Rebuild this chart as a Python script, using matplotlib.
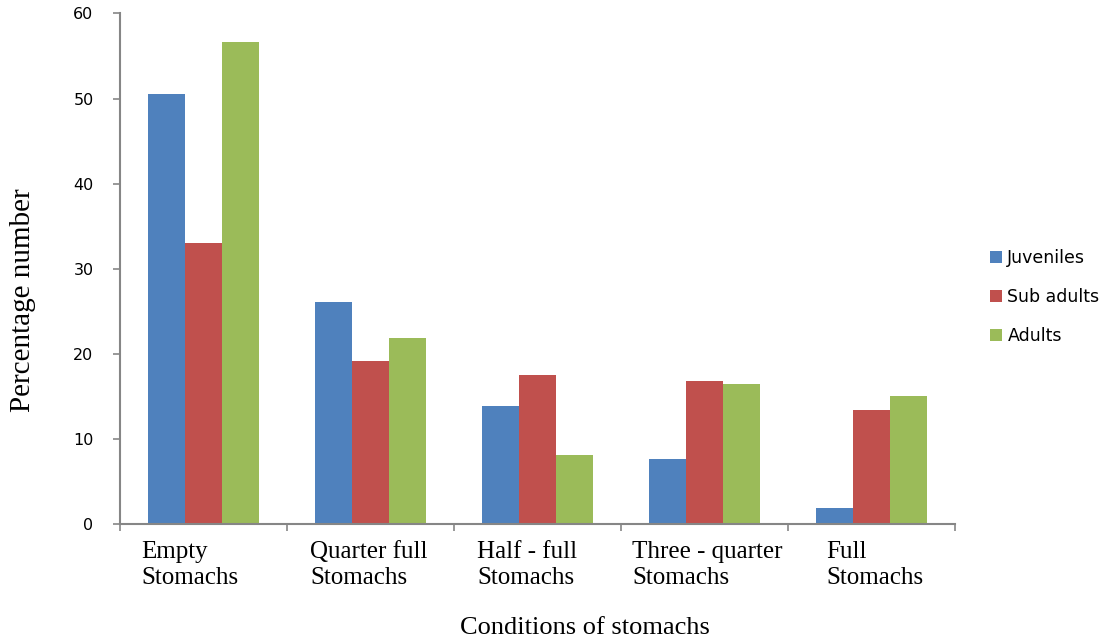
import numpy as np
import matplotlib.pyplot as plt

# condiciones de estomago y porcentaje por grupo de edad
categorias = ['Empty\nStomachs', 'Quarter full\nStomachs', 'Half - full\nStomachs',
              'Three - quarter\nStomachs', 'Full\nStomachs']
juveniles = [50.5, 26.1, 13.9, 7.6, 1.9]
sub_adultos = [33.0, 19.2, 17.5, 16.8, 13.4]
adultos = [56.7, 21.9, 8.1, 16.5, 15.0]
series = [('Juveniles', juveniles, '#4F81BD'),
          ('Sub adults', sub_adultos, '#C0504D'),
          ('Adults', adultos, '#9BBB59')]

gris = '#868686'

fig = plt.figure(figsize=(11.01, 6.42), dpi=100)
ax = fig.add_axes([0.109, 0.184, 0.758, 0.795])

x = np.arange(len(categorias))
ancho = 0.222
for i, (nombre, valores, color) in enumerate(series):
    ax.bar(x + (i - 1) * ancho, valores, ancho, color=color, label=nombre)

ax.set_xlim(-0.5, len(categorias) - 0.5)
ax.set_ylim(0, 60)
ax.set_yticks(np.arange(0, 61, 10))

# marcas del eje x en los limites de cada grupo, sin etiquetas
ax.set_xticks(np.arange(-0.5, len(categorias), 1))
ax.set_xticklabels([])
ax.tick_params(axis='x', length=5, color=gris, width=1.2)

# etiquetas de categoria alineadas a la izquierda
desplazamiento = [-0.37, -0.36, -0.36, -0.43, -0.27]
for xi, texto, d in zip(x, categorias, desplazamiento):
    ax.text(xi + d, -2.0, texto, ha='left', va='top', fontfamily='Liberation Serif',
            fontsize=18, linespacing=1.25)

ax.tick_params(axis='y', length=5, color=gris, width=1.2, labelsize=11.5, pad=14)

for lado in ['top', 'right']:
    ax.spines[lado].set_visible(False)
for lado in ['left', 'bottom']:
    ax.spines[lado].set_color(gris)
    ax.spines[lado].set_linewidth(1.5)

fig.text(0.021, 0.533, 'Percentage number', rotation=90, ha='center', va='center',
         fontfamily='Liberation Serif', fontsize=21)
fig.text(0.531, 0.022, 'Conditions of stomachs', ha='center', va='center',
         fontfamily='Liberation Serif', fontsize=19)

fig.legend(loc='center left', bbox_to_anchor=(0.885, 0.537), frameon=False,
           fontsize=12.5, handlelength=0.7, handleheight=0.7, handletextpad=0.3,
           labelspacing=1.2)

fig.savefig('out.png', dpi=100)
